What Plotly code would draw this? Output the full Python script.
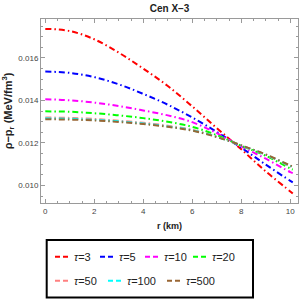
import plotly.graph_objects as go

# ---- data ----
r_km = [0, 1, 2, 3, 4, 5, 6, 7, 8, 9, 10, 10.1]
tau_labels = ["τ=3", "τ=5", "τ=10", "τ=20", "τ=50", "τ=100", "τ=500"]
tau3 = [0.01737, 0.01727, 0.01688, 0.01625, 0.01550, 0.01468, 0.01372, 0.01270, 0.01170, 0.01066, 0.00972, 0.00962]
tau5 = [0.01536, 0.01530, 0.01510, 0.01476, 0.01431, 0.01380, 0.01320, 0.01252, 0.01178, 0.01098, 0.01022, 0.01015]
tau10 = [0.01406, 0.01401, 0.01390, 0.01374, 0.01353, 0.01330, 0.01298, 0.01246, 0.01184, 0.01126, 0.01063, 0.01058]
tau20 = [0.01349, 0.01347, 0.01340, 0.01330, 0.01317, 0.01300, 0.01276, 0.01237, 0.01187, 0.01140, 0.01080, 0.01075]
tau50 = [0.01320, 0.01318, 0.01313, 0.01305, 0.01295, 0.01281, 0.01262, 0.01230, 0.01188, 0.01144, 0.01090, 0.01085]
tau100 = [0.01316, 0.01314, 0.01309, 0.01302, 0.01292, 0.01278, 0.01260, 0.01229, 0.01188, 0.01145, 0.01092, 0.01087]
tau500 = [0.01312, 0.01310, 0.01306, 0.01299, 0.01289, 0.01276, 0.01258, 0.01228, 0.01189, 0.01146, 0.01094, 0.01089]
series = [tau3, tau5, tau10, tau20, tau50, tau100, tau500]
x_ticks = [0, 2, 4, 6, 8, 10]
y_ticks = [0.010, 0.012, 0.014, 0.016]
y_tick_text = ["0.010", "0.012", "0.014", "0.016"]

# ---- styles ----
colors = ["#FF0000", "#0000FF", "#FF00FF", "#00FF00", "#FF8080", "#00FFFF", "#996633"]
dash = "6px,3px,1.5px,3px"
FONT = "Liberation Sans, Arial, sans-serif"

W, H = 300, 300
L, R, T, B = 41, 2, 19, 97
pw, ph = W - L - R, H - T - B

fig = go.Figure()
for lab, ys, c in zip(tau_labels, series, colors):
    fig.add_trace(go.Scatter(x=r_km, y=ys, mode="lines", name=lab,
                             line=dict(color=c, width=2, dash=dash, shape="spline"),
                             showlegend=False))

axis_common = dict(showline=True, linecolor="#9a9a9a", linewidth=1, mirror="allticks",
                   ticks="inside", ticklen=4, tickcolor="#9a9a9a", tickwidth=1,
                   showgrid=False, zeroline=False, ticklabeloverflow="allow",
                   tickfont=dict(family=FONT, size=8, color="#444444"))

fig.update_xaxes(range=[-0.1755, 10.314], tickvals=x_ticks, **axis_common,
                 minor=dict(dtick=0.5, ticks="inside", ticklen=2, tickcolor="#9a9a9a", showgrid=False),
                 title=dict(text="<b>r (km)</b>", font=dict(family=FONT, size=9, color="#222222"), standoff=8))
fig.update_yaxes(range=[0.009176, 0.017835], tickvals=y_ticks, ticktext=y_tick_text, **axis_common,
                 minor=dict(dtick=0.0005, ticks="inside", ticklen=2, tickcolor="#9a9a9a", showgrid=False),
                 title=dict(text="<b>ρ−p<sub>r</sub> (MeV/fm<sup>3</sup>)</b>",
                            font=dict(family=FONT, size=11, color="#222222"), standoff=5))

# ---- manual legend (box, line samples, labels) ----
def px2x(px):
    return (px - L) / pw

def py2y(py):
    return (H - B - py) / ph

shapes = [dict(type="rect", xref="paper", yref="paper",
               x0=px2x(46.7), x1=px2x(253), y0=py2y(297.5), y1=py2y(240),
               line=dict(color="black", width=2), fillcolor="white", layer="below")]
annotations = []
sym_x = [55, 100, 145, 193, 55, 108, 167]
row_y = [256.7, 256.7, 256.7, 256.7, 280.7, 280.7, 280.7]
for lab, c, sx, sy in zip(tau_labels, colors, sym_x, row_y):
    shapes.append(dict(type="line", xref="paper", yref="paper",
                       x0=px2x(sx), x1=px2x(sx + 13), y0=py2y(sy), y1=py2y(sy),
                       line=dict(color=c, width=2, dash="5px,3px")))
    t_sym, t_rest = lab.split("=")
    annotations.append(dict(xref="paper", yref="paper", x=px2x(sx + 17), y=py2y(sy),
                            xanchor="left", yanchor="middle", showarrow=False,
                            text="<i>" + t_sym + "</i>=" + t_rest,
                            font=dict(family=FONT, size=11, color="#222222")))

fig.update_layout(
    width=W, height=H,
    margin=dict(l=L, r=R, t=T, b=B, pad=0),
    paper_bgcolor="white", plot_bgcolor="white",
    title=dict(text="<b>Cen X–3</b>", x=(L + pw / 2) / W, xanchor="center",
               y=1 - 8 / H, yanchor="middle",
               font=dict(family=FONT, size=10, color="#222222")),
    shapes=shapes, annotations=annotations,
    showlegend=False,
)

fig.write_html("out.html", config={"displayModeBar": False},
               post_script="document.body.style.margin='0';")
